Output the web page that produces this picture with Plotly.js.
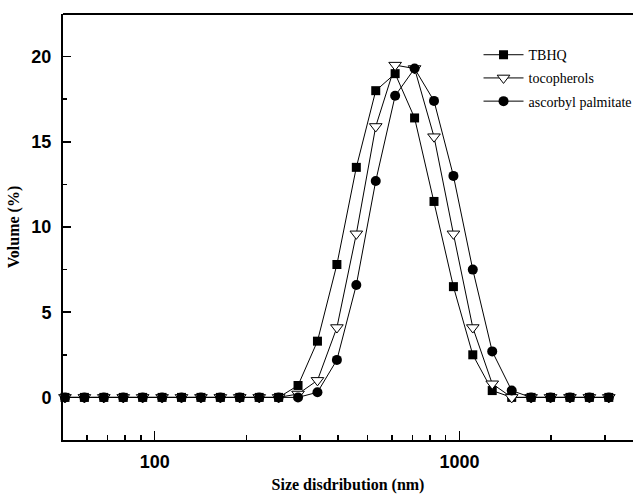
<!DOCTYPE html>
<html>
<head>
<meta charset="utf-8">
<script src="https://cdn.plot.ly/plotly-3.0.1.min.js"></script>
<style>html,body{margin:0;padding:0;overflow:hidden;background:#fff;}</style>
</head>
<body>
<div id="chart" style="width:633px;height:495px;"></div>
<script>
// Size classes (nm)
const sizes = [50.75, 58.77, 68.06, 78.82, 91.28, 105.7, 122.4, 141.8, 164.2, 190.1,
  220.2, 255.0, 295.3, 342.0, 396.1, 458.7, 531.2, 615.1, 712.4, 825.0,
  955.4, 1106, 1281, 1484, 1718, 1990, 2305, 2669, 3091];
const tbhq = [0,0,0,0,0,0,0,0,0,0,0,0,
  0.7, 3.3, 7.8, 13.5, 18.0, 19.0, 16.4, 11.5, 6.5, 2.5, 0.4,
  0,0,0,0,0,0];
const tocopherols = [0,0,0,0,0,0,0,0,0,0,0,0,
  0.2, 1.0, 4.1, 9.6, 15.9, 19.5, 19.3, 15.3, 9.6, 4.1, 0.8,
  0,0,0,0,0,0];
const ascorbyl = [0,0,0,0,0,0,0,0,0,0,0,0,0,
  0.3, 2.2, 6.6, 12.7, 17.7, 19.3, 17.4, 13.0, 7.5, 2.7, 0.4,
  0,0,0,0,0];
const seriesNames = ['TBHQ', 'tocopherols', 'ascorbyl palmitate'];
const xMajorTicks = [100, 1000];
const xMinorTicks = [60, 70, 80, 90, 200, 300, 400, 500, 600, 700, 800, 900, 2000, 3000];
const yTicks = [0, 5, 10, 15, 20];

const lineStyle = {color: '#000', width: 1};
const traces = [
  {x: sizes, y: tbhq, name: seriesNames[0], legendgroup: 'a', mode: 'lines+markers',
   line: lineStyle, marker: {symbol: 'square', size: 9, color: '#000', line: {color: '#000', width: 0}}},
  {x: sizes, y: tocopherols, name: seriesNames[1], legendgroup: 'b', mode: 'lines+markers',
   line: lineStyle, marker: {symbol: 'triangle-down', size: 11, color: '#fff', line: {color: '#000', width: 1}}},
  {x: sizes, y: ascorbyl, name: seriesNames[2], legendgroup: 'c', mode: 'lines+markers',
   line: lineStyle, marker: {symbol: 'circle', size: 10, color: '#000', line: {color: '#000', width: 0}}}
];
traces.forEach(t => { t.cliponaxis = false; });

const tickFont = {family: 'Liberation Sans, Arial, sans-serif', size: 18, color: '#000', weight: 'bold'};
const titleFont = {family: 'Liberation Serif, Times New Roman, serif', size: 16, color: '#000', weight: 'bold'};

const layout = {
  width: 633, height: 495,
  margin: {l: 63, r: 0, t: 14, b: 55, autoexpand: false},
  paper_bgcolor: '#fff', plot_bgcolor: '#fff',
  showlegend: true,
  legend: {x: 0.729, y: 0.941, xanchor: 'left', yanchor: 'top', bgcolor: 'rgba(0,0,0,0)',
    font: {family: 'Liberation Serif, Times New Roman, serif', size: 14, color: '#000'},
    tracegroupgap: 2, itemwidth: 40},
  xaxis: {
    type: 'log', range: [Math.log10(50), 3.5695],
    showgrid: false, zeroline: false,
    showline: true, linecolor: '#000', linewidth: 2, mirror: false,
    tickmode: 'array', tickvals: xMajorTicks, ticktext: xMajorTicks.map(String),
    ticks: 'inside', ticklen: 9, tickwidth: 1.5, tickcolor: '#000',
    ticklabelstandoff: 4,
    tickfont: tickFont,
    minor: {tickmode: 'array', tickvals: xMinorTicks, ticks: 'inside', ticklen: 5, tickwidth: 1.5, tickcolor: '#000', showgrid: false},
    title: {text: 'Size disdribution (nm)', font: titleFont, standoff: 8}
  },
  yaxis: {
    range: [-2.5, 22.5],
    showgrid: false, zeroline: false,
    showline: true, linecolor: '#000', linewidth: 2, mirror: false,
    tickmode: 'array', tickvals: yTicks, ticktext: yTicks.map(String),
    ticks: 'inside', ticklen: 8, tickwidth: 1.5, tickcolor: '#000',
    ticklabelstandoff: 6,
    tickfont: tickFont,
    minor: {dtick: 2.5, ticks: 'inside', ticklen: 4, tickwidth: 1.5, tickcolor: '#000', showgrid: false},
    title: {text: 'Volume (%)', font: titleFont, standoff: 8}
  },
  shapes: [
    {type: 'line', xref: 'paper', yref: 'paper', x0: 0, x1: 1, y0: 1, y1: 1,
     line: {color: '#000', width: 2}}
  ]
};

Plotly.newPlot('chart', traces, layout, {displayModeBar: false, staticPlot: true});
</script>
</body>
</html>
